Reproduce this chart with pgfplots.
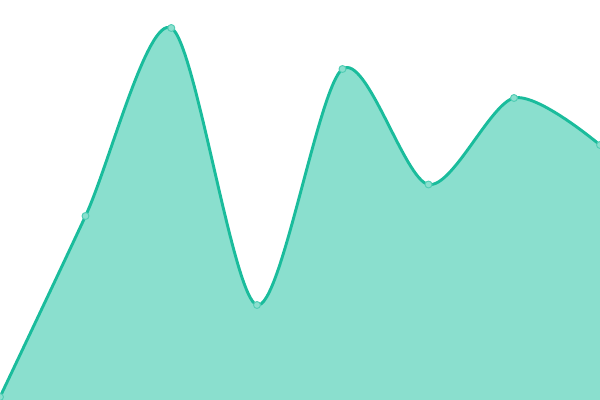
\documentclass[border=0pt]{standalone}
\usepackage{pgfplots}
\pgfplotsset{compat=1.18}
\definecolor{linec}{HTML}{1ABC9C}
\definecolor{fillc}{HTML}{8ADFCE}
\begin{document}
\begin{tikzpicture}
\begin{axis}[
  width=432pt, height=288pt, scale only axis,
  axis lines=none, ticks=none,
  xmin=0, xmax=600, ymin=0, ymax=400,
]
\addplot[draw=none, fill=fillc, smooth, tension=0.5, forget plot] coordinates {
(0,3) (85.5,184) (171.3,372) (257,95) (342.5,331) (428.5,215.5) (514,302) (600,255)
} \closedcycle;
\addplot[linec, line width=2.1pt, smooth, tension=0.5,
  mark=*, mark size=2.5pt, mark options={fill=fillc, draw=linec!75, line width=0.7pt}] coordinates {
(0,3) (85.5,184) (171.3,372) (257,95) (342.5,331) (428.5,215.5) (514,302) (600,255)
};
\end{axis}
\pgfresetboundingbox
\path[use as bounding box] (current axis.south west) rectangle (current axis.north east);
\end{tikzpicture}
\end{document}
